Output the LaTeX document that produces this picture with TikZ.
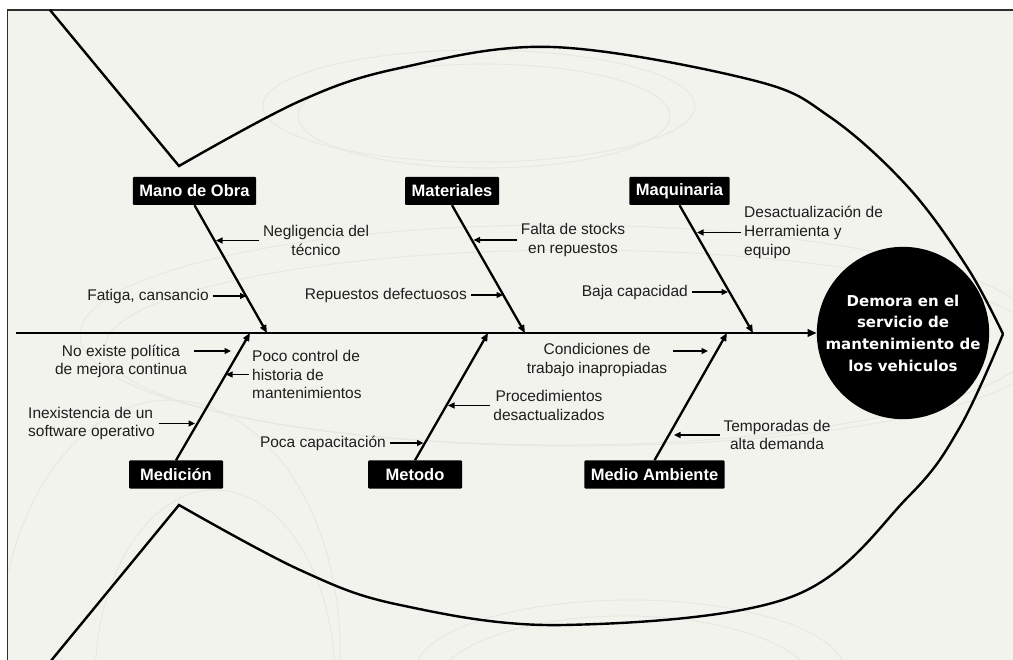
\documentclass[tikz,border=0pt]{standalone}
\usepackage{fontspec}
\setmainfont{Liberation Sans}
\newfontfamily\circfont{DejaVu Sans}
\usetikzlibrary{arrows.meta}
\definecolor{paper}{RGB}{242,243,236}
\definecolor{frameline}{RGB}{45,45,45}
\definecolor{ghost}{RGB}{227,233,225}
\definecolor{ink}{RGB}{30,30,30}

\begin{document}
\begin{tikzpicture}[x=1pt,y=-1pt,
  cat/.style={fill=black, text=white, rounded corners=1pt,
    font=\fontsize{16.5}{18}\selectfont\bfseries,
    inner xsep=6.5pt, inner ysep=0pt, minimum height=28pt, minimum width=94pt},
  cause/.style={text=ink, font=\fontsize{15.5}{18.7}\selectfont,
    inner xsep=3.5pt, inner ysep=0pt},
  bone/.style={line width=2.3pt, -{Triangle[length=8pt,width=6.5pt]}},
  sub/.style={line width=1.4pt, -{Triangle[length=6.5pt,width=6pt]}},
  fish/.style={line width=2.4pt, line join=miter},
  ghostline/.style={draw=ghost, line width=0.9pt}]

\useasboundingbox (0,0) rectangle (1013,660);
\clip (0,0) rectangle (1013,660);

% page frame and paper
\fill[white] (0,0) rectangle (1013,660);
\fill[paper] (7.5,10) rectangle (1030,680);

% faint ornamental rings in the background, kept on the paper
\begin{scope}
  \clip (8.5,11) rectangle (1030,680);
  \draw[ghostline] (479,106) ellipse [x radius=216, y radius=56];
  \draw[ghostline] (484,116) ellipse [x radius=186, y radius=52];
  \draw[ghostline] (560,335) ellipse [x radius=480, y radius=110];
  \draw[ghostline] (575,348) ellipse [x radius=470, y radius=98];
  \draw[ghostline] (170,650) ellipse [x radius=170, y radius=250];
  \draw[ghostline] (215,680) ellipse [x radius=120, y radius=190];
  \draw[ghostline] (630,672) ellipse [x radius=215, y radius=72];
  \draw[ghostline] (625,688) ellipse [x radius=190, y radius=72];
\end{scope}
\draw[frameline, line width=1.8pt] (7.5,10) rectangle (1030,680);

% fish outline
\draw[fish] (50,10) -- plot[smooth, tension=0.6] coordinates
  {(179,166) (300,101) (400,68) (552,47) (752,80) (830,117) (908,187) (967,267) (1003,334)};
\draw[fish] plot[smooth, tension=0.6] coordinates
  {(1003,334) (960,427) (908,497) (791,597) (564,625) (400,605) (300,570) (179,505)} -- (50,662);

% effect
\node[circle, fill=black, minimum size=171pt, inner sep=0pt, text=white, align=center,
  font=\circfont\bfseries\fontsize{15}{21.7}\selectfont] (eff) at (903,333)
  {Demora en el\\servicio de\\mantenimiento de\\los vehiculos};

% spine
\coordinate (tail) at (16,333);
\draw[line width=2pt, -{Triangle[length=9pt,width=7.5pt]}] (tail) -- (eff.west);

% categories
\node[cat] (mano) at (194.5,191) {Mano de Obra};
\node[cat] (mat)  at (452,191)   {Materiales};
\node[cat] (maq)  at (679.5,191) {Maquinaria};
\node[cat] (med)  at (176,474.5) {Medición};
\node[cat] (met)  at (415,474.5) {Metodo};
\node[cat] (amb)  at (654.5,474.5) {Medio Ambiente};

% bone ends on the spine
\coordinate (jmano) at (267,333);
\coordinate (jmat)  at (525,333);
\coordinate (jmaq)  at (753,333);
\coordinate (jmed)  at (250,333);
\coordinate (jmet)  at (488,333);
\coordinate (jamb)  at (727,333);

\draw[bone] (mano.south) -- (jmano);
\draw[bone] (mat.south)  -- (jmat);
\draw[bone] (maq.south)  -- (jmaq);
\draw[bone] (med.north)  -- (jmed);
\draw[bone] (met.north)  -- (jmet);
\draw[bone] (amb.north)  -- (jamb);

% causes
\node[cause, align=center] (neg) at (316,240.5) {Negligencia del\\técnico};
\node[cause, anchor=east] (fat) at (212.5,296) {Fatiga, cansancio};
\node[cause, align=center] (fal) at (573,240) {Falta de stocks\\en repuestos};
\node[cause, anchor=east] (rep) at (470.5,295) {Repuestos defectuosos};
\node[cause, anchor=west, align=left] (des) at (740.5,232.5) {Desactualización de\\Herramienta y\\equipo};
\node[cause, anchor=east] (baj) at (691.5,292) {Baja capacidad};
\node[cause, align=center] (noe) at (121,361.5) {No existe política\\de mejora continua};
\node[cause, anchor=west, align=left] (poc) at (248.5,374.5) {Poco control de\\historia de\\mantenimientos};
\node[cause, anchor=west, align=left] (ine) at (24.5,423.5) {Inexistencia de un\\software operativo};
\node[cause, anchor=east] (cap) at (389.5,443) {Poca capacitación};
\node[cause, align=center] (pro) at (549,405.5) {Procedimientos\\desactualizados};
\node[cause, align=center] (con) at (597,360) {Condiciones de\\trabajo inapropiadas};
\node[cause, align=center] (tem) at (777,435) {Temporadas de\\alta demanda};

% cause arrow ends
\coordinate (tneg) at (216,240.5);
\coordinate (tfat) at (246.5,296);
\coordinate (tfal) at (473.5,240);
\coordinate (trep) at (503,295);
\coordinate (tdes) at (697,232.5);
\coordinate (tbaj) at (728,292);
\coordinate (snoe) at (194,351);
\coordinate (tnoe) at (231,351);
\coordinate (tpoc) at (226,374.5);
\coordinate (tine) at (195,423.5);
\coordinate (tcap) at (423.5,443);
\coordinate (tpro) at (448,405.5);
\coordinate (scon) at (673,351);
\coordinate (tcon) at (708,351);
\coordinate (ttem) at (674,435);

\draw[sub] (neg.west) -- (tneg);
\draw[sub] (fat.east) -- (tfat);
\draw[sub] (fal.west) -- (tfal);
\draw[sub] (rep.east) -- (trep);
\draw[sub] (des.west) -- (tdes);
\draw[sub] (baj.east) -- (tbaj);
\draw[sub] (snoe) -- (tnoe);
\draw[sub] (poc.west) -- (tpoc);
\draw[sub] (ine.east) -- (tine);
\draw[sub] (cap.east) -- (tcap);
\draw[sub] (pro.west) -- (tpro);
\draw[sub] (scon) -- (tcon);
\draw[sub] (tem.west) -- (ttem);
\end{tikzpicture}
\end{document}
